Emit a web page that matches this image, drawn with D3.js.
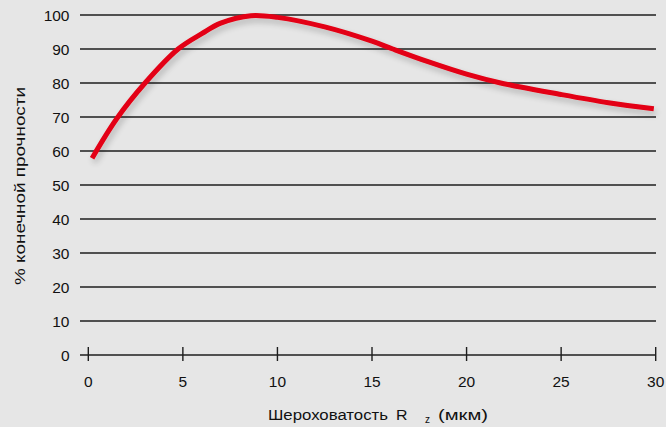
<!DOCTYPE html>
<html><head><meta charset="utf-8">
<script src="https://cdn.jsdelivr.net/npm/d3@7"></script>
<style>
html,body{margin:0;padding:0;background:#e3e3e3;}
svg{display:block;font-family:"Liberation Sans",Arial,sans-serif;}
</style></head>
<body>
<svg id="c" width="666" height="427"></svg>
<script>
const xTicks = [0, 5, 10, 15, 20, 25, 30];
const yTicks = [0, 10, 20, 30, 40, 50, 60, 70, 80, 90, 100];
const roughness = [0.2, 1.5, 3, 4.75, 6, 7, 8.6, 10, 12.5, 15, 16.1, 18, 20, 21.8, 25, 27.5, 29.9];
const strength  = [57.9, 69.5, 80, 90, 94.5, 97.6, 99.8, 99.3, 96.5, 92.3, 90, 86.2, 82.6, 80, 76.6, 74.2, 72.4];

const svg = d3.select("#c");
const x = d3.scaleLinear().domain([0, 30]).range([88.3, 655.7]);
const y = d3.scaleLinear().domain([0, 100]).range([355, 15]);
const gridL = 80, gridR = 656;

const defs = svg.append("defs");
const f = defs.append("filter").attr("id","sh").attr("x","-10%").attr("y","-30%").attr("width","120%").attr("height","160%");
f.append("feGaussianBlur").attr("in","SourceAlpha").attr("stdDeviation",3).attr("result","b");
f.append("feOffset").attr("in","b").attr("dx",2).attr("dy",4).attr("result","o");
f.append("feComponentTransfer").attr("in","o").attr("result","o2")
  .append("feFuncA").attr("type","linear").attr("slope",0.22);
const m = f.append("feMerge");
m.append("feMergeNode").attr("in","o2");
m.append("feMergeNode").attr("in","SourceGraphic");

svg.append("rect").attr("width",666).attr("height",427).attr("fill","#e6e6e6");

// gridlines
svg.append("g").selectAll("line").data(yTicks).join("line")
  .attr("x1", gridL).attr("x2", gridR)
  .attr("y1", d => y(d)).attr("y2", d => y(d))
  .attr("stroke", "#1e1e1e").attr("stroke-width", 1.4);

// y labels
svg.append("g").selectAll("text").data(yTicks).join("text")
  .attr("x", 69.5).attr("y", d => y(d)).attr("dy", "0.36em")
  .attr("text-anchor", "end").attr("font-size", 15.5).attr("fill", "#111")
  .text(d => d);

// x ticks
svg.append("g").selectAll("line").data(xTicks).join("line")
  .attr("x1", d => x(d)).attr("x2", d => x(d))
  .attr("y1", 347).attr("y2", 361)
  .attr("stroke", "#1e1e1e").attr("stroke-width", 1.4);
svg.append("g").selectAll("text").data(xTicks).join("text")
  .attr("x", d => x(d)).attr("y", 381).attr("dy", "0.36em")
  .attr("text-anchor", "middle").attr("font-size", 15.5).attr("fill", "#111")
  .text(d => d);

// x axis title (pieces)
const xt = svg.append("g").attr("font-size", 15.5).attr("fill", "#111");
xt.append("text").attr("x", 268).attr("y", 420).attr("textLength", 120)
  .attr("lengthAdjust", "spacingAndGlyphs").text("Шероховатость");
xt.append("text").attr("x", 396).attr("y", 420).attr("textLength", 11.5)
  .attr("lengthAdjust", "spacingAndGlyphs").text("R");
xt.append("text").attr("x", 425).attr("y", 423).attr("font-size", 10).text("z");
xt.append("text").attr("x", 438).attr("y", 420).attr("textLength", 50)
  .attr("lengthAdjust", "spacingAndGlyphs").text("(мкм)");

// y axis title
svg.append("text").attr("transform", "translate(24.5,186) rotate(-90)")
  .attr("text-anchor", "middle").attr("font-size", 15.5).attr("fill", "#111")
  .attr("textLength", 198).attr("lengthAdjust", "spacingAndGlyphs")
  .text("% конечной прочности");

// curve
const pts = roughness.map((r, i) => [r, strength[i]]);
svg.append("path").datum(pts)
  .attr("d", d3.line().x(d => x(d[0])).y(d => y(d[1])).curve(d3.curveCatmullRom.alpha(0.5)))
  .attr("fill", "none").attr("stroke", "#e30613").attr("stroke-width", 5)
  .attr("filter", "url(#sh)");
</script>
</body></html>
